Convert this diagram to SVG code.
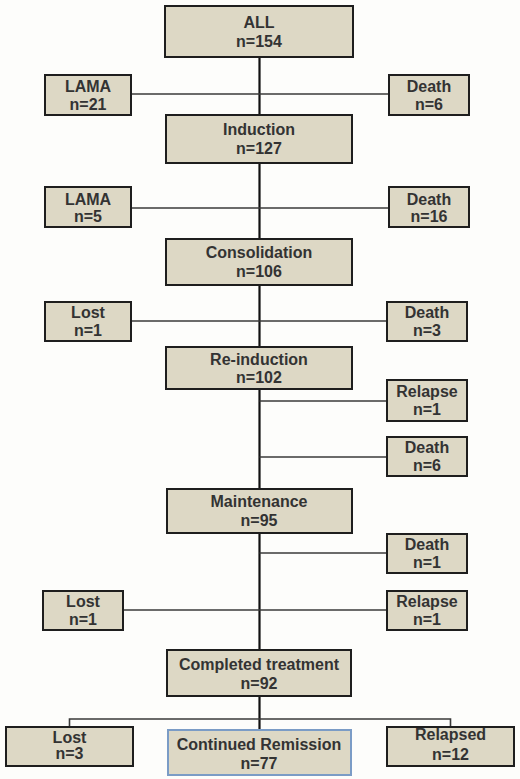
<svg xmlns="http://www.w3.org/2000/svg" width="520" height="779" viewBox="0 0 520 779">
<style>
.b{fill:#ddd8c5;stroke:#1e1e1e;stroke-width:2}
.bb{fill:#ddd8c5;stroke:#7b9cc6;stroke-width:2}
.t{font-family:"Liberation Sans",Arial,sans-serif;font-weight:bold;font-size:16px;fill:#333;text-anchor:middle}
.v{stroke:#111;stroke-width:2.2;fill:none}
.h{stroke:#3a3a3a;stroke-width:1.6;fill:none}
</style>
<rect width="520" height="779" fill="#fdfdfb"/>
<g id="connectors">
<line class="v" x1="259.5" y1="57" x2="259.5" y2="115"/>
<line class="v" x1="259.5" y1="163" x2="259.5" y2="239"/>
<line class="v" x1="259.5" y1="285" x2="259.5" y2="347"/>
<line class="v" x1="259.5" y1="389" x2="259.5" y2="489"/>
<line class="v" x1="259.5" y1="533" x2="259.5" y2="650"/>
<line class="v" x1="259.5" y1="696" x2="259.5" y2="730"/>
<line class="h" x1="131" y1="94" x2="389" y2="94"/>
<line class="h" x1="131" y1="208" x2="389" y2="208"/>
<line class="h" x1="131" y1="321" x2="387" y2="321"/>
<line class="h" x1="259.5" y1="401" x2="387" y2="401"/>
<line class="h" x1="259.5" y1="457" x2="387" y2="457"/>
<line class="h" x1="259.5" y1="553" x2="387" y2="553"/>
<line class="h" x1="123" y1="610" x2="387" y2="610"/>
<polyline class="h" points="69.5,727 69.5,719 450.5,719 450.5,727"/>
</g>
<g id="all"><rect class="b" x="165" y="6" width="188" height="51"/><text class="t" x="259" y="28">ALL</text><text class="t" x="259" y="47">n=154</text></g>
<g id="lama1"><rect class="b" x="45" y="75" width="86" height="40"/><text class="t" x="88" y="92">LAMA</text><text class="t" x="88" y="110">n=21</text></g>
<g id="death1"><rect class="b" x="389" y="75" width="80" height="40"/><text class="t" x="429" y="92">Death</text><text class="t" x="429" y="110">n=6</text></g>
<g id="induction"><rect class="b" x="166" y="115" width="186" height="48"/><text class="t" x="259" y="135">Induction</text><text class="t" x="259" y="154">n=127</text></g>
<g id="lama2"><rect class="b" x="45" y="187" width="86" height="40"/><text class="t" x="88" y="205">LAMA</text><text class="t" x="88" y="222">n=5</text></g>
<g id="death2"><rect class="b" x="389" y="187" width="80" height="40"/><text class="t" x="429" y="205">Death</text><text class="t" x="429" y="222">n=16</text></g>
<g id="consolidation"><rect class="b" x="166" y="239" width="186" height="46"/><text class="t" x="259" y="258">Consolidation</text><text class="t" x="259" y="277">n=106</text></g>
<g id="lost1"><rect class="b" x="45" y="302" width="86" height="39"/><text class="t" x="88" y="318">Lost</text><text class="t" x="88" y="336">n=1</text></g>
<g id="death3"><rect class="b" x="387" y="302" width="80" height="39"/><text class="t" x="427" y="318">Death</text><text class="t" x="427" y="336">n=3</text></g>
<g id="reinduction"><rect class="b" x="166" y="347" width="186" height="42"/><text class="t" x="259" y="365">Re-induction</text><text class="t" x="259" y="383">n=102</text></g>
<g id="relapse1"><rect class="b" x="387" y="380" width="80" height="41"/><text class="t" x="427" y="397">Relapse</text><text class="t" x="427" y="415">n=1</text></g>
<g id="death4"><rect class="b" x="387" y="437" width="80" height="39"/><text class="t" x="427" y="453">Death</text><text class="t" x="427" y="471">n=6</text></g>
<g id="maintenance"><rect class="b" x="167" y="489" width="185" height="44"/><text class="t" x="259" y="507">Maintenance</text><text class="t" x="259" y="526">n=95</text></g>
<g id="death5"><rect class="b" x="387" y="534" width="80" height="39"/><text class="t" x="427" y="550">Death</text><text class="t" x="427" y="568">n=1</text></g>
<g id="lost2"><rect class="b" x="43" y="591" width="80" height="39"/><text class="t" x="83" y="607">Lost</text><text class="t" x="83" y="625">n=1</text></g>
<g id="relapse2"><rect class="b" x="387" y="591" width="80" height="39"/><text class="t" x="427" y="607">Relapse</text><text class="t" x="427" y="625">n=1</text></g>
<g id="completed"><rect class="b" x="167" y="650" width="184" height="46"/><text class="t" x="259" y="670">Completed treatment</text><text class="t" x="259" y="689">n=92</text></g>
<g id="lost3"><rect class="b" x="6" y="727" width="127" height="39"/><text class="t" x="69.5" y="743">Lost</text><text class="t" x="69.5" y="759">n=3</text></g>
<g id="remission"><rect class="bb" x="168" y="730" width="183" height="45"/><text class="t" x="259" y="750">Continued Remission</text><text class="t" x="259" y="769">n=77</text></g>
<g id="relapsed"><rect class="b" x="387" y="727" width="127" height="39"/><text class="t" x="450.5" y="740">Relapsed</text><text class="t" x="450.5" y="760">n=12</text></g>
</svg>
